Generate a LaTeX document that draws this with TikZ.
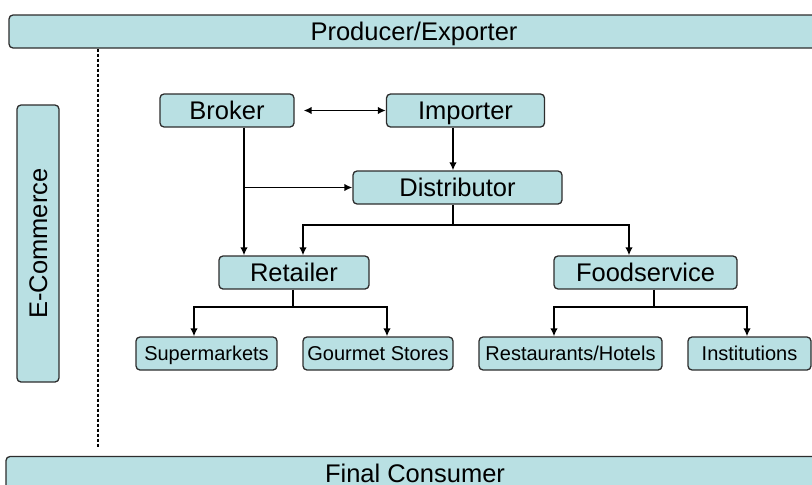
\documentclass[tikz,border=0pt]{standalone}
\usepackage{fontspec}
\setmainfont{Liberation Sans}
\usetikzlibrary{arrows.meta}
\definecolor{boxfill}{RGB}{185,224,227}
\definecolor{boxline}{RGB}{45,45,45}

\begin{document}
\begin{tikzpicture}[x=1pt, y=-1pt, >={Latex[length=8pt,width=7.5pt]},
  box/.style={draw=boxline, fill=boxfill, line width=1.3pt, rounded corners=4pt,
    inner sep=0pt, minimum height=33pt, text height=18.3pt, text depth=0pt,
    font=\fontsize{25.5}{30}\selectfont},
  smallbox/.style={box, text height=14.3pt, font=\fontsize{20}{24}\selectfont},
  link/.style={line width=1.7pt}]
  \useasboundingbox (0,0) rectangle (812,485);

  % Top and bottom bars
  \node[box, minimum width=810pt] (producer) at (414,31.5) {Producer/Exporter};
  \node[box, minimum width=818pt] (consumer) at (415,473) {Final Consumer};

  % E-Commerce channel
  \node[box, rotate=90, minimum width=277pt, minimum height=42pt] (ecom) at (38,243.5) {E-Commerce};
  \coordinate (dashend) at (98,448);
  \draw[dash pattern=on 3pt off 2pt, line width=1.5pt] (producer.south -| dashend) -- (dashend);

  % Intermediaries
  \node[box, minimum width=134pt] (broker) at (227,110.5) {Broker};
  \node[box, minimum width=158pt] (importer) at (465.5,110.5) {Importer};
  \node[box, minimum width=209pt] (distributor) at (457.5,187.5) {Distributor};
  \node[box, minimum width=150pt] (retailer) at (294,272.5) {Retailer};
  \node[box, minimum width=183pt] (foodservice) at (645.5,272.5) {Foodservice};

  % Outlets
  \node[smallbox, minimum width=141pt] (supermarkets) at (206.5,353.5) {Supermarkets};
  \node[smallbox, minimum width=150pt] (gourmet) at (378,353.5) {Gourmet Stores};
  \node[smallbox, minimum width=183pt] (restaurants) at (570.5,353.5) {Restaurants/Hotels};
  \node[smallbox, minimum width=123pt] (institutions) at (749.5,353.5) {Institutions};

  % Junctions
  \coordinate (bx) at (244,0);
  \coordinate (dx) at (453,225);
  \coordinate (rx) at (293,307);
  \coordinate (fx) at (654,307);

  % Connectors
  \draw[link, <->] ([xshift=9pt]broker.east) -- (importer.west);
  \draw[link, ->] (importer.south -| dx) -- (distributor.north -| dx);
  \draw[link, ->] (broker.south -| bx) -- (retailer.north -| bx);
  \draw[link, ->] (distributor.west -| bx) -- (distributor.west);

  \draw[link] (distributor.south -| dx) -- (dx);
  \draw[link, ->] (dx) -| ([xshift=9pt]retailer.north);
  \draw[link, ->] (dx) -| ([xshift=-16.5pt]foodservice.north);

  \draw[link] (retailer.south -| rx) -- (rx);
  \draw[link, ->] (rx) -| ([xshift=-12.5pt]supermarkets.north);
  \draw[link, ->] (rx) -| ([xshift=9pt]gourmet.north);

  \draw[link] (foodservice.south -| fx) -- (fx);
  \draw[link, ->] (fx) -| ([xshift=-16.5pt]restaurants.north);
  \draw[link, ->] (fx) -| ([xshift=-2.5pt]institutions.north);
\end{tikzpicture}
\end{document}
